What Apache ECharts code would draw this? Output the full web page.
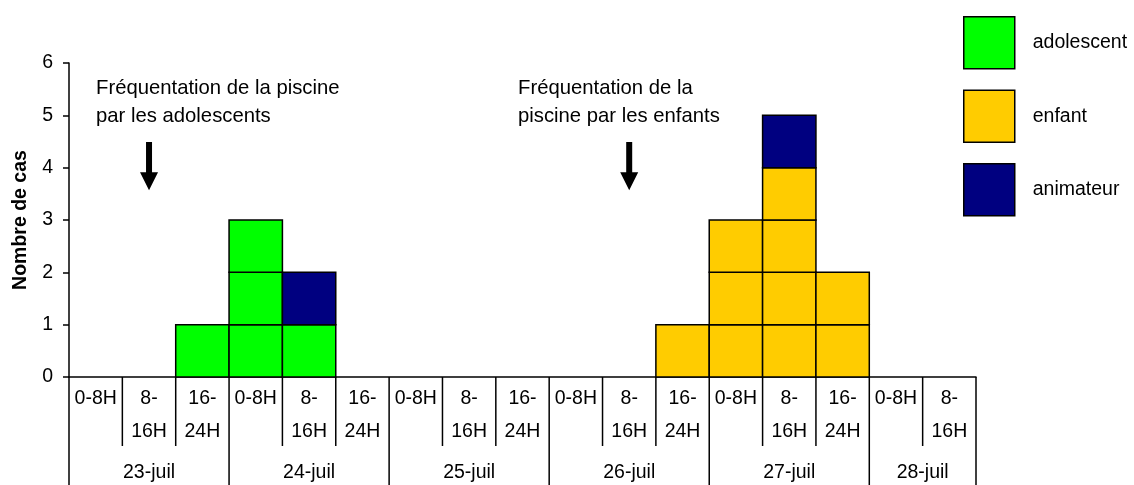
<!DOCTYPE html>
<html>
<head>
<meta charset="utf-8">
<script src="https://cdn.jsdelivr.net/npm/echarts@6/dist/echarts.min.js"></script>
<style>html,body{margin:0;padding:0;background:#fff}#c{width:1134px;height:485px}</style>
</head>
<body>
<div id="c"></div>
<script>
const slotLabels = ['0-8H', '8-\n16H', '16-\n24H'];
const days = ['23-juil', '24-juil', '25-juil', '26-juil', '27-juil', '28-juil'];
const slotsPerDay = [3, 3, 3, 3, 3, 2];
const adolescent = [0, 0, 1, 3, 1, 0, 0, 0, 0, 0, 0, 0, 0, 0, 0, 0, 0];
const enfant     = [0, 0, 0, 0, 0, 0, 0, 0, 0, 0, 0, 1, 3, 4, 2, 0, 0];
const animateur  = [0, 0, 0, 0, 1, 0, 0, 0, 0, 0, 0, 0, 0, 1, 0, 0, 0];
const yTicks = [0, 1, 2, 3, 4, 5, 6];
// arrows: [category index, top value, tip value]
const arrows = [[1, 4.49, 3.57], [10, 4.49, 3.57]];
const notes = ['Fréquentation de la piscine\npar les adolescents', 'Fréquentation de la\npiscine par les enfants'];

const FONT = '"Liberation Sans", Arial, sans-serif';
const FS = 19.5;
const FS_NOTE = 20.3;

const categories = [];
const dayItems = [];
let pos = 0;
days.forEach((d, i) => {
  for (let s = 0; s < slotsPerDay[i]; s++) categories.push(slotLabels[s]);
  dayItems.push([pos, slotsPerDay[i], d, i === days.length - 1 ? 1 : 0]);
  pos += slotsPerDay[i];
});

function stackData(values, bases) {
  const out = [];
  values.forEach((v, i) => { if (v > 0) out.push([i, bases[i], v]); });
  return out;
}
const zeros = adolescent.map(() => 0);
const adoData = stackData(adolescent, zeros);
const enfData = stackData(enfant, adolescent);
const aniData = stackData(animateur, adolescent.map((v, i) => v + enfant[i]));

function boxRenderer(color) {
  return function (params, api) {
    const idx = api.value(0), base = api.value(1), n = api.value(2);
    const bw = api.size([1, 0])[0];
    const children = [];
    for (let k = 0; k < n; k++) {
      const p0 = api.coord([idx, base + k]);
      const p1 = api.coord([idx, base + k + 1]);
      children.push({
        type: 'rect',
        shape: { x: p0[0] - bw / 2, y: p1[1], width: bw, height: p0[1] - p1[1] },
        style: { fill: color, stroke: '#000', lineWidth: 1.5 }
      });
    }
    return { type: 'group', children };
  };
}

const colors = { adolescent: '#00FF00', enfant: '#FFCC00', animateur: '#000080' };

const chart = echarts.init(document.getElementById('c'), null, { renderer: 'canvas' });
chart.setOption({
  animation: false,
  backgroundColor: '#fff',
  textStyle: { fontFamily: FONT },
  grid: { left: 69, right: 158, top: 63, bottom: 108, containLabel: false, outerBoundsMode: 'none' },
  legend: {
    orient: 'vertical', left: 963, top: 16, padding: 0,
    itemWidth: 51, itemHeight: 52, itemGap: 20,
    icon: 'rect',
    data: ['adolescent', 'enfant', 'animateur'],
    itemStyle: { borderColor: '#000', borderWidth: 1.5 },
    textStyle: { fontSize: FS, color: '#000', fontFamily: FONT, padding: [0, 0, 0, 13] },
    selectedMode: false
  },
  xAxis: {
    type: 'category', data: categories, boundaryGap: true,
    axisLine: { lineStyle: { color: '#000', width: 1.5 } },
    axisTick: { show: false },
    axisLabel: { interval: 0, margin: 5, fontSize: FS, lineHeight: 33, color: '#000', fontFamily: FONT, align: 'center' },
    splitLine: { show: false }
  },
  yAxis: {
    type: 'value', min: 0, max: 6, interval: 1,
    name: 'Nombre de cas', nameLocation: 'middle', nameGap: 38,
    nameTextStyle: { fontSize: FS, fontWeight: 'bold', color: '#000', fontFamily: FONT },
    axisLine: { show: true, lineStyle: { color: '#000', width: 1.5 } },
    axisTick: { show: true, length: 6, lineStyle: { color: '#000', width: 1.5 } },
    axisLabel: { margin: 16, fontSize: FS, color: '#000', fontFamily: FONT,
      formatter: v => (yTicks.indexOf(v) >= 0 ? String(v) : '') },
    splitLine: { show: false }
  },
  graphic: [
    { type: 'text', left: 96, top: 74, style: { text: notes[0], font: FS_NOTE + 'px ' + FONT, lineHeight: 28, fill: '#000' } },
    { type: 'text', left: 518, top: 74, style: { text: notes[1], font: FS_NOTE + 'px ' + FONT, lineHeight: 28, fill: '#000' } }
  ],
  series: [
    { name: 'adolescent', type: 'custom', data: adoData, renderItem: boxRenderer(colors.adolescent),
      itemStyle: { color: colors.adolescent }, encode: { x: 0, y: 1 } },
    { name: 'enfant', type: 'custom', data: enfData, renderItem: boxRenderer(colors.enfant),
      itemStyle: { color: colors.enfant }, encode: { x: 0, y: 1 } },
    { name: 'animateur', type: 'custom', data: aniData, renderItem: boxRenderer(colors.animateur),
      itemStyle: { color: colors.animateur }, encode: { x: 0, y: 1 } },
    { name: 'days', type: 'custom', data: dayItems, clip: false, silent: true,
      encode: { x: 0 },
      renderItem: function (params, api) {
        const start = api.value(0), count = api.value(1), label = dayItems[params.dataIndex][2], last = api.value(3);
        const bw = api.size([1, 0])[0];
        const p = api.coord([start, 0]);
        const x0 = p[0] - bw / 2, x1 = x0 + count * bw, y0 = p[1];
        const ln = { stroke: '#000', lineWidth: 1.5 };
        const children = [
          { type: 'line', shape: { x1: x0, y1: y0, x2: x0, y2: y0 + 120 }, style: ln },
          { type: 'text', style: { text: label, x: (x0 + x1) / 2, y: y0 + 96, align: 'center', verticalAlign: 'middle',
            font: FS + 'px ' + FONT, fill: '#000' } }
        ];
        for (let s = 1; s < count; s++) {
          const xs = x0 + s * bw;
          children.push({ type: 'line', shape: { x1: xs, y1: y0, x2: xs, y2: y0 + 69 }, style: ln });
        }
        if (last) children.push({ type: 'line', shape: { x1: x1, y1: y0, x2: x1, y2: y0 + 120 }, style: ln });
        return { type: 'group', children };
      }
    },
    { name: 'arrows', type: 'custom', data: arrows, clip: false, silent: true,
      encode: { x: 0, y: 1 },
      renderItem: function (params, api) {
        const top = api.coord([api.value(0), api.value(1)]);
        const tip = api.coord([api.value(0), api.value(2)]);
        const x = top[0];
        const headH = 18, headW = 9, shaftW = 3;
        return { type: 'polygon', shape: { points: [
          [x - shaftW, top[1]], [x + shaftW, top[1]], [x + shaftW, tip[1] - headH], [x + headW, tip[1] - headH],
          [x, tip[1]], [x - headW, tip[1] - headH], [x - shaftW, tip[1] - headH]
        ] }, style: { fill: '#000' } };
      }
    }
  ]
});
</script>
</body>
</html>
